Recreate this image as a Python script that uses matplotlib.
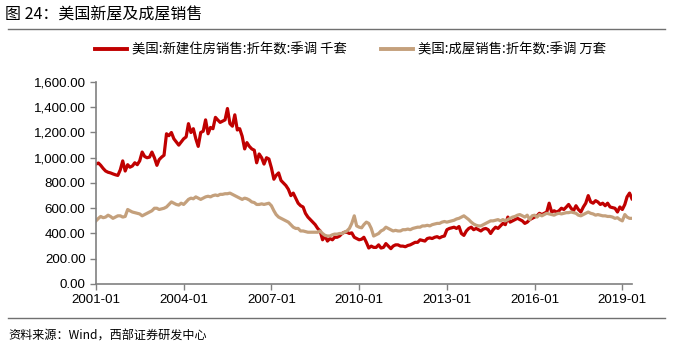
import matplotlib
matplotlib.use("Agg")
import matplotlib.pyplot as plt
import matplotlib.dates as mdates
import numpy as np
import pandas as pd
from matplotlib.lines import Line2D
from matplotlib.ticker import FuncFormatter

# monthly, 2001-01 .. 2019-05
new_home = [
    950, 958, 940, 915, 895, 885, 880, 872, 865, 860, 905, 975,        # 2001
    895, 945, 925, 935, 960, 945, 975, 1045, 1010, 1000, 1005, 1045,   # 2002
    1000, 940, 985, 1005, 1020, 1190, 1175, 1200, 1150, 1125, 1100, 1125,  # 2003
    1150, 1165, 1270, 1200, 1230, 1150, 1090, 1200, 1210, 1300, 1190, 1240,  # 2004
    1230, 1320, 1300, 1280, 1290, 1300, 1390, 1270, 1250, 1340, 1220, 1230,  # 2005
    1170, 1070, 1120, 1090, 1070, 1060, 960, 1030, 1000, 950, 1000, 990,  # 2006
    920, 830, 860, 880, 820, 800, 780, 750, 700, 720, 680, 640,         # 2007
    620, 610, 560, 530, 510, 490, 470, 440, 420, 350, 380, 340,         # 2008
    360, 350, 370, 370, 380, 400, 410, 410, 400, 405, 370, 360,         # 2009
    350, 355, 370, 330, 285, 300, 290, 290, 310, 285, 290, 320,         # 2010
    300, 280, 300, 310, 310, 300, 300, 295, 305, 310, 320, 330,         # 2011
    330, 350, 345, 340, 360, 365, 360, 370, 375, 365, 375, 380,         # 2012
    430, 440, 445, 450, 440, 455, 400, 385, 420, 440, 450, 430,         # 2013
    440, 430, 420, 435, 440, 430, 400, 430, 450, 440, 460, 480,         # 2014
    470, 530, 490, 500, 510, 520, 510, 500, 480, 490, 510, 520,         # 2015
    530, 540, 560, 550, 560, 570, 640, 570, 580, 570, 580, 600,         # 2016
    590, 610, 630, 600, 580, 620, 590, 570, 610, 640, 700, 650,         # 2017
    640, 660, 650, 630, 640, 620, 640, 610, 605, 600, 570, 610,         # 2018
    590, 630, 690, 720, 675,                                            # 2019
]
existing_home = [
    500, 520, 535, 525, 530, 545, 535, 520, 530, 540, 540, 530,         # 2001
    535, 590, 580, 570, 565, 560, 555, 540, 550, 560, 570, 580,         # 2002
    600, 600, 590, 595, 600, 610, 630, 650, 640, 630, 625, 640,         # 2003
    630, 650, 670, 680, 675, 690, 680, 670, 680, 690, 695, 690,         # 2004
    700, 705, 700, 710, 710, 715, 715, 720, 710, 700, 690, 680,         # 2005
    670, 680, 675, 665, 650, 645, 630, 630, 635, 630, 635, 640,         # 2006
    620, 580, 550, 530, 520, 510, 500, 490, 470, 450, 440, 440,         # 2007
    420, 420, 415, 410, 410, 410, 410, 410, 420, 400, 385, 380,         # 2008
    380, 390, 395, 395, 400, 400, 410, 420, 440, 480, 540, 460,         # 2009
    450, 445, 470, 490, 480, 440, 380, 390, 400, 420, 430, 450,         # 2010
    440, 430, 420, 425, 420, 420, 430, 430, 435, 430, 440, 445,         # 2011
    450, 450, 460, 460, 465, 460, 470, 475, 480, 480, 490, 495,         # 2012
    490, 495, 500, 505, 515, 520, 530, 540, 525, 510, 490, 475,         # 2013
    465, 460, 460, 470, 480, 490, 500, 500, 505, 510, 500, 510,         # 2014
    500, 510, 520, 530, 535, 545, 550, 540, 530, 545, 510, 540,         # 2015
    545, 530, 550, 540, 550, 560, 555, 550, 545, 555, 560, 555,         # 2016
    560, 565, 565, 570, 565, 560, 545, 540, 550, 560, 570, 560,         # 2017
    555, 545, 550, 545, 540, 540, 535, 535, 530, 520, 525, 510,         # 2018
    500, 550, 530, 520, 520,                                            # 2019
]
months = pd.date_range("2001-01-01", periods=len(new_home), freq="MS")
tick_dates = pd.to_datetime(["2001-01-01", "2004-01-01", "2007-01-01", "2010-01-01",
                             "2013-01-01", "2016-01-01", "2019-01-01"])
y_ticks = np.arange(0, 1601, 200)

label_new = "美国:新建住房销售:折年数:季调 千套"
label_old = "美国:成屋销售:折年数:季调 万套"
title = "图 24：美国新屋及成屋销售"
source = "资料来源：Wind，西部证券研发中心"

RED = "#C00000"
TAN = "#C4A07C"
AXIS = "#808080"
CJK = ["Noto Sans CJK SC", "DejaVu Sans"]

plt.rcParams["font.family"] = ["Liberation Sans", "Noto Sans CJK SC"]

fig = plt.figure(figsize=(6.73, 3.53), dpi=100)
ax = fig.add_axes([0.1426, 0.1955, 0.7964, 0.5722])

ax.plot(months, new_home, color=RED, lw=2.3, solid_joinstyle="round")
ax.plot(months, existing_home, color=TAN, lw=2.3, solid_joinstyle="round")

ax.set_xlim(months[0], months[-1])
ax.set_ylim(0, 1600)
ax.set_yticks(y_ticks)
ax.yaxis.set_major_formatter(FuncFormatter(lambda v, _: f"{v:,.2f}"))
ax.set_xticks(tick_dates)
ax.xaxis.set_major_formatter(mdates.DateFormatter("%Y-%m"))
ax.tick_params(axis="both", labelsize=9.6, colors=AXIS, labelcolor="black",
               length=4, width=1, direction="out")

for side in ("top", "right"):
    ax.spines[side].set_visible(False)
for side in ("left", "bottom"):
    ax.spines[side].set_color(AXIS)
    ax.spines[side].set_linewidth(1.2)

handles = [Line2D([], [], color=RED, lw=2.8), Line2D([], [], color=TAN, lw=2.8)]
fig.legend(handles, [label_new, label_old], loc="center", bbox_to_anchor=(0.521, 0.859),
           ncol=2, frameon=False, prop={"family": CJK, "size": 9.6},
           handlelength=2.4, handletextpad=0.4, columnspacing=2.5)

fig.text(0.008, 0.958, title, fontsize=11.5, family=CJK, va="center", ha="left")
fig.add_artist(Line2D([0.012, 0.988], [0.917, 0.917], color="#707070", lw=1))
fig.add_artist(Line2D([0.012, 0.988], [0.099, 0.099], color="#707070", lw=1))
fig.text(0.012, 0.048, source, fontsize=8.7, family=CJK, va="center", ha="left")

fig.savefig("out.png", dpi=100)
